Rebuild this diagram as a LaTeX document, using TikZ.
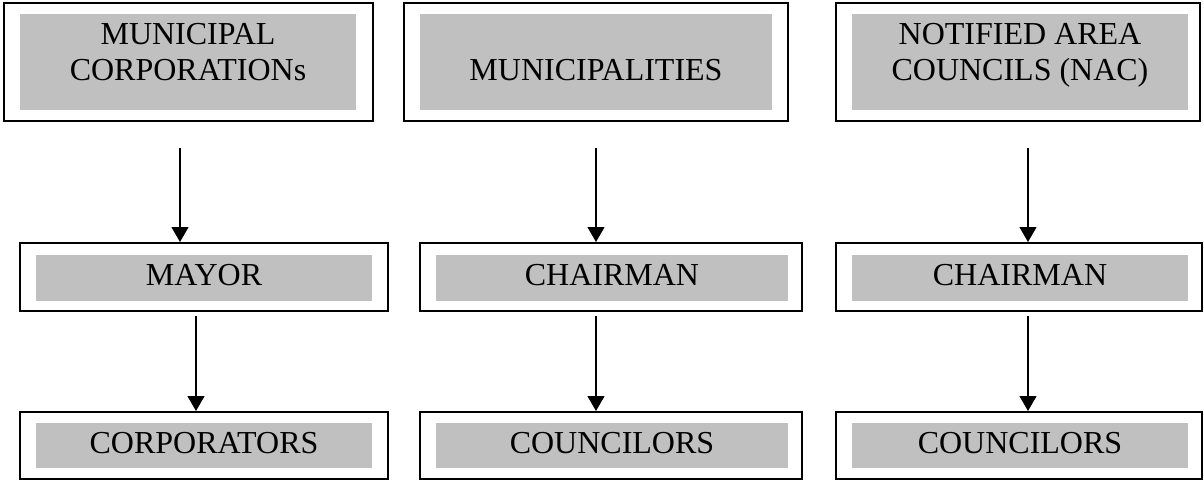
\documentclass[tikz,border=0pt]{standalone}
\usepackage{fontspec}
\setmainfont{Liberation Serif}
\usepackage{tikz}
\usetikzlibrary{arrows.meta}
\definecolor{boxgrey}{RGB}{192,192,192}

\begin{document}
\begin{tikzpicture}[x=0.5pt,y=-0.5pt,
		outer/.style={draw, line width=1pt, fill=white, inner sep=0pt},
		shade/.style={fill=boxgrey, inner sep=0pt, minimum height=23pt},
		boxtext/.style={anchor=base, align=center, inner sep=0pt, font=\fontsize{16}{18}\selectfont},
		arr/.style={line width=0.65pt, -{Triangle[width=8.5pt,length=7.5pt]}}]
			\useasboundingbox (0,0) rectangle (1204,481);

			\node[outer, minimum width=184.5pt, minimum height=59pt] (mc) at (188.5,62) {};
			\node[outer, minimum width=192pt, minimum height=59pt] (mun) at (596,62) {};
			\node[outer, minimum width=182pt, minimum height=59pt] (nac) at (1018,62) {};
			\node[shade, minimum width=168pt, minimum height=48pt] (mcIn) at (188,62) {};
			\node[shade, minimum width=176pt, minimum height=48pt] (munIn) at (596,62) {};
			\node[shade, minimum width=168pt, minimum height=48pt] (nacIn) at (1020,62) {};

			\node[outer, minimum width=184pt, minimum height=34pt] (mayor) at (204,277) {};
			\node[outer, minimum width=191pt, minimum height=34pt] (chairA) at (611,277) {};
			\node[outer, minimum width=183pt, minimum height=34pt] (chairB) at (1019,277) {};
			\node[shade, minimum width=168pt] (mayorIn) at (204,278) {};
			\node[shade, minimum width=176pt] (chairAIn) at (612,278) {};
			\node[shade, minimum width=168pt] (chairBIn) at (1020,278) {};

			\node[outer, minimum width=184pt, minimum height=33.5pt] (corp) at (204,445.5) {};
			\node[outer, minimum width=191pt, minimum height=33.5pt] (councA) at (611,445.5) {};
			\node[outer, minimum width=183pt, minimum height=33.5pt] (councB) at (1019,445.5) {};
			\node[shade, minimum width=168pt, minimum height=22.5pt] (corpIn) at (204,445.5) {};
			\node[shade, minimum width=176pt, minimum height=22.5pt] (councAIn) at (612,445.5) {};
			\node[shade, minimum width=168pt, minimum height=22.5pt] (councBIn) at (1020,445.5) {};

			\node[boxtext] (mcText) at (188,80.5) {MUNICIPAL\\CORPORATIONs};
			\node[boxtext] (munText) at (596,81) {MUNICIPALITIES};
			\node[boxtext] (nacText) at (1020,80.5) {NOTIFIED AREA\\COUNCILS (NAC)};
			\node[boxtext] (mayorText) at (204,285.5) {MAYOR};
			\node[boxtext] (chairAText) at (612,285.5) {CHAIRMAN};
			\node[boxtext] (chairBText) at (1020,285.5) {CHAIRMAN};
			\node[boxtext] (corpText) at (204,453) {CORPORATORS};
			\node[boxtext] (councAText) at (612,453) {COUNCILORS};
			\node[boxtext] (councBText) at (1020,453) {COUNCILORS};

			\coordinate (mcOut) at ([xshift=-4.25pt,yshift=-13pt]mc.south);
			\coordinate (mayorOut) at ([xshift=-4pt,yshift=-2pt]mayor.south);
			\coordinate (munOut) at ([yshift=-13pt]mun.south);
			\coordinate (chairAOut) at ([xshift=-7.5pt,yshift=-2pt]chairA.south);
			\coordinate (nacOut) at ([xshift=5pt,yshift=-13pt]nac.south);
			\coordinate (chairBOut) at ([xshift=4.5pt,yshift=-2pt]chairB.south);

			\draw[arr] (mcOut) -- (mcOut |- mayor.north);
			\draw[arr] (mayorOut) -- (mayorOut |- corp.north);
			\draw[arr] (munOut) -- (munOut |- chairA.north);
			\draw[arr] (chairAOut) -- (chairAOut |- councA.north);
			\draw[arr] (nacOut) -- (nacOut |- chairB.north);
			\draw[arr] (chairBOut) -- (chairBOut |- councB.north);
		\end{tikzpicture}
\end{document}
